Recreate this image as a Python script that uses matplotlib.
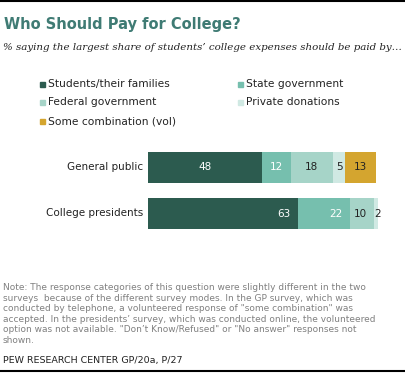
import matplotlib
matplotlib.use("Agg")
import matplotlib.pyplot as plt
from matplotlib.patches import Rectangle
from matplotlib.lines import Line2D

groups = ["General public", "College presidents"]
series = ["Students/their families", "State government", "Federal government",
          "Private donations", "Some combination (vol)"]
gp_values = [48, 12, 18, 5, 13]
pres_values = [63, 22, 10, 2, 0]
colors = ["#2c5b4f", "#76bfae", "#a6d4c8", "#d0e9e3", "#d4a52f"]
label_colors = ["white", "white", "#222222", "#222222", "#222222"]

W, H = 405, 373
fig = plt.figure(figsize=(W / 100, H / 100), dpi=100)

def fx(px):
    return px / W

def fy(py):
    return 1 - py / H

# rules top and bottom
fig.add_artist(Line2D([0, 1], [fy(1), fy(1)], color="black", lw=1.5))
fig.add_artist(Line2D([0, 1], [fy(371), fy(371)], color="black", lw=1.5))

fig.text(fx(4), fy(24), "Who Should Pay for College?", fontsize=10.5, fontweight="bold",
         color="#3f7b74", va="center", ha="left")
fig.text(fx(3), fy(47), "% saying the largest share of students\u2019 college expenses should be paid by\u2026",
         fontsize=7.4, style="italic", family="DejaVu Serif", color="#222222",
         va="center", ha="left")

# legend
leg_pos = [(42, 84), (240, 84), (42, 102), (240, 102), (42, 121)]
for (lx, ly), name, c in zip(leg_pos, series, colors):
    fig.add_artist(Rectangle((fx(lx - 2.5), fy(ly + 2.5)), 5 / W, 5 / H, color=c,
                             transform=fig.transFigure))
    fig.text(fx(lx + 6), fy(ly), name, fontsize=7.7, color="#222222", va="center", ha="left")

# bars
ax = fig.add_axes([fx(148), fy(236.5), 237.5 / W, 92 / H])
ax.set_xlim(0, 100)
ax.set_ylim(1.5, -0.5)
ax.axis("off")

for row, vals in enumerate([gp_values, pres_values]):
    left = 0
    for i, v in enumerate(vals):
        if v == 0:
            continue
        ax.barh(row, v, left=left, height=0.674, color=colors[i], edgecolor="none")
        if row == 0:
            ax.text(left + v / 2, row, str(v), ha="center", va="center",
                    fontsize=7.5, color=label_colors[i])
        else:
            if v >= 5:
                ax.text(left + v - 3, row + 0.02, str(v), ha="right", va="center",
                        fontsize=7.5, color=label_colors[i])
            else:
                ax.text(left + v + 1, row + 0.02, str(v), ha="right", va="center",
                        fontsize=7.5, color=label_colors[i])
        left += v
    ax.text(-2, row, groups[row], ha="right", va="center", fontsize=7.5, color="#222222")

note = ("Note: The response categories of this question were slightly different in the two\n"
        "surveys  because of the different survey modes. In the GP survey, which was\n"
        "conducted by telephone, a volunteered response of \"some combination\" was\n"
        "accepted. In the presidents\u2019 survey, which was conducted online, the volunteered\n"
        "option was not available. \"Don\u2019t Know/Refused\" or \"No answer\" responses not\n"
        "shown.")
fig.text(fx(3), fy(283), note, fontsize=6.5, color="#808080", va="top", ha="left",
         linespacing=1.22)
fig.text(fx(3), fy(361), "PEW RESEARCH CENTER GP/20a, P/27", fontsize=6.8, color="#222222",
         va="center", ha="left")

fig.savefig("out.png", dpi=100)
